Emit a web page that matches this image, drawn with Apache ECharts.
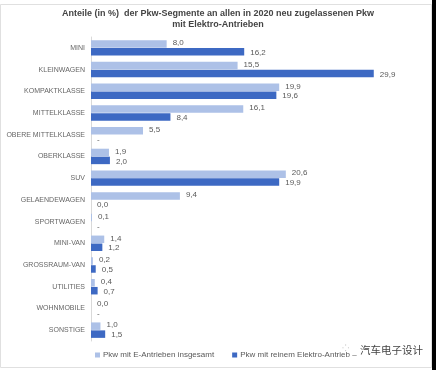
<!DOCTYPE html>
<html><head><meta charset="utf-8">
<script src="https://cdn.jsdelivr.net/npm/echarts@6/dist/echarts.min.js"></script>
<style>html,body{margin:0;padding:0;background:#fff}#c{width:436px;height:370px}</style>
</head><body><div id="c"></div>
<script>
const titleText = 'Anteile (in %)  der Pkw-Segmente an allen in 2020 neu zugelassenen Pkw\nmit Elektro-Antrieben';
const categories = ['MINI','KLEINWAGEN','KOMPAKTKLASSE','MITTELKLASSE','OBERE MITTELKLASSE','OBERKLASSE','SUV','GELAENDEWAGEN','SPORTWAGEN','MINI-VAN','GROSSRAUM-VAN','UTILITIES','WOHNMOBILE','SONSTIGE'];
const seriesNames = ['Pkw mit E-Antrieben insgesamt','Pkw mit reinem Elektro-Antrieb \u2013'];
const totalValues = [8.0,15.5,19.9,16.1,5.5,1.9,20.6,9.4,0.1,1.4,0.2,0.4,0.0,1.0];
const bevValues = [16.2,29.9,19.6,8.4,null,2.0,19.9,0.0,null,1.2,0.5,0.7,null,1.5];
const watermark = '汽车电子设计';

const cats = categories.slice().reverse();
function mk(arr){ return arr.slice().reverse().map(v => ({value: v === null ? 0 : v, missing: v === null})); }
function fmt(p){ return p.data.missing ? '-' : p.value.toFixed(1).replace('.', ','); }

const chart = echarts.init(document.getElementById('c'), null, {renderer:'canvas'});
chart.setOption({
  backgroundColor:'#fff',
  animation:false,
  title:{text:titleText,left:'center',top:3,textStyle:{fontFamily:'Liberation Sans, Arial',fontSize:9,fontWeight:'bold',color:'#444',lineHeight:11}},
  grid:{left:91,right:14,top:37,bottom:29,containLabel:false,outerBoundsMode:'none'},
  xAxis:{type:'value',min:0,max:35,show:false},
  yAxis:{type:'category',data:cats,axisLine:{show:true,lineStyle:{color:'#d9d9d9'}},axisTick:{show:false},
    axisLabel:{fontFamily:'Liberation Sans, Arial',fontSize:7,color:'#666',margin:6}},
  legend:{bottom:6,left:90,itemWidth:5,itemHeight:5,itemGap:18,icon:'rect',
    textStyle:{fontFamily:'Liberation Sans, Arial',fontSize:8,color:'#595959',padding:[0,0,0,-2]},data:seriesNames},
  series:[
    {name:seriesNames[0],type:'bar',data:mk(totalValues),barWidth:7.5,barGap:'6%',itemStyle:{color:'#adc1e7'},
     label:{show:true,position:'right',formatter:fmt,fontFamily:'Liberation Sans, Arial',fontSize:8,color:'#595959',distance:6,offset:[0,-1]}},
    {name:seriesNames[1],type:'bar',data:mk(bevValues),barWidth:7.5,itemStyle:{color:'#3d69c3'},
     label:{show:true,position:'right',formatter:fmt,fontFamily:'Liberation Sans, Arial',fontSize:8,color:'#595959',distance:6,offset:[0,1]}}
  ],
  graphic:[
    {type:'rect',shape:{x:0.5,y:4.5,width:431,height:363},style:{fill:'none',stroke:'#e0e0e0',lineWidth:1},silent:true},
    {type:'rect',shape:{x:432,y:0,width:4,height:370},style:{fill:'#000'},silent:true},
    {type:'text',left:360,top:345,style:{text:watermark,font:'10.5px "Noto Sans CJK SC"',fill:'#444'}},
    {type:'text',left:342,top:344,style:{text:'⁘',font:'9px sans-serif',fill:'#bbb'}}
  ]
});
</script></body></html>
